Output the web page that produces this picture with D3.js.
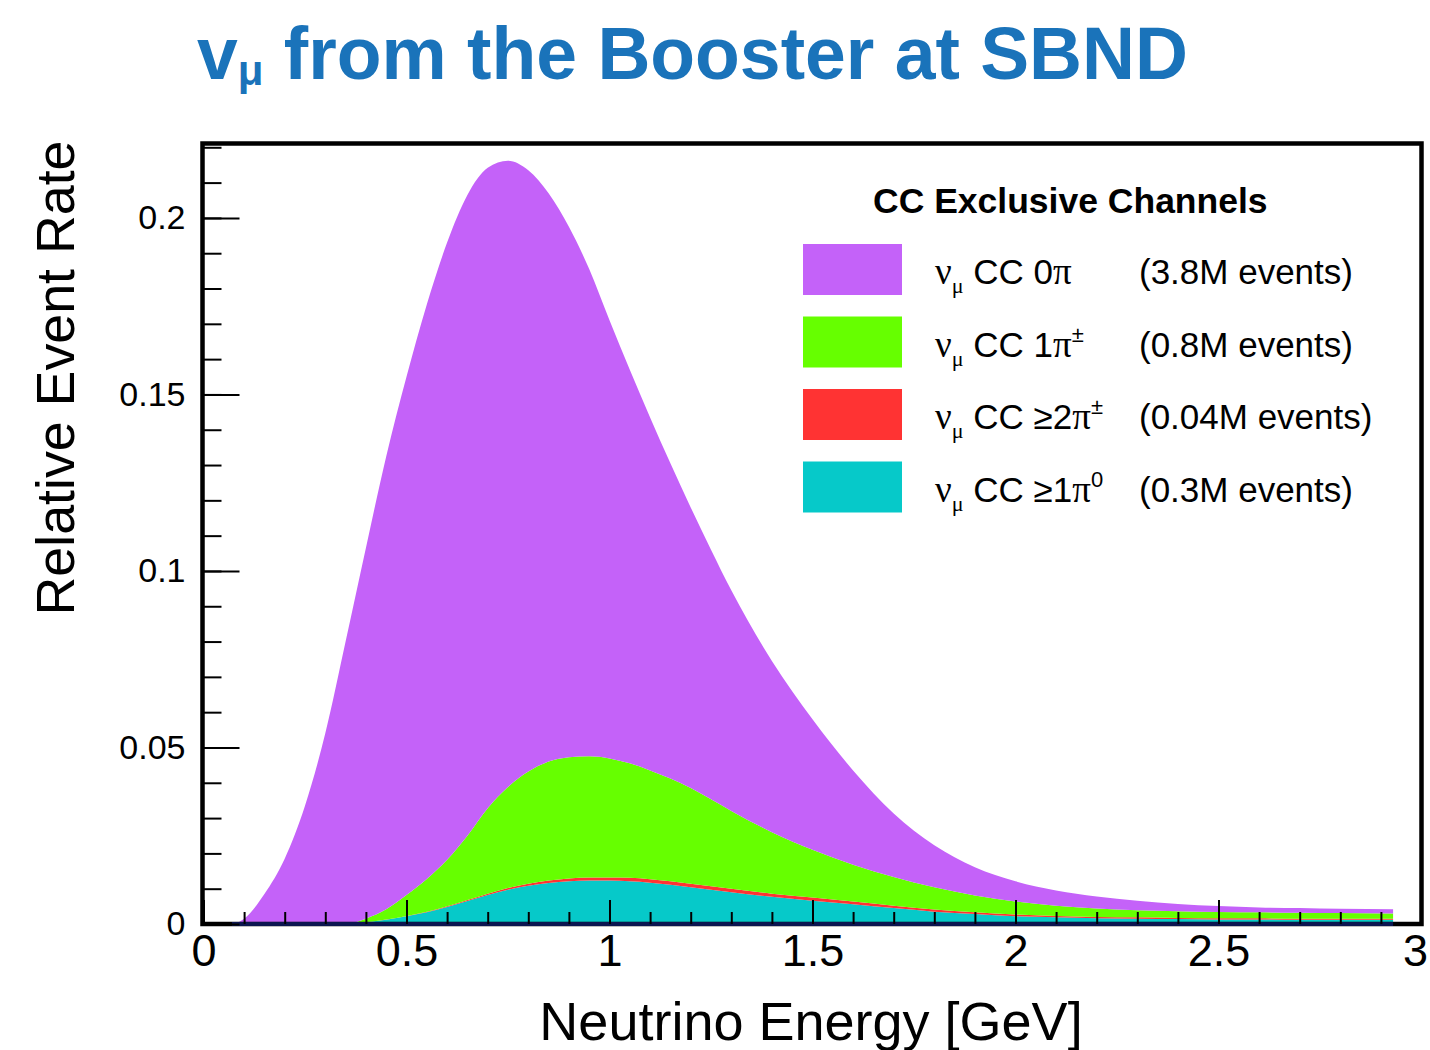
<!DOCTYPE html>
<html>
<head>
<meta charset="utf-8">
<script src="https://cdn.jsdelivr.net/npm/d3@7"></script>
<style>
  body { margin: 0; background: #fff; }
  svg { display: block; }
</style>
</head>
<body>
<svg id="chart" width="1430" height="1050"></svg>
<script>
// Neutrino energy grid [GeV]
const energy = [0, 0.07, 0.1, 0.15, 0.2, 0.25, 0.3, 0.35,
  0.4, 0.45, 0.5, 0.55, 0.6, 0.65, 0.7, 0.75, 0.8, 0.85, 0.9, 0.95, 1.0, 1.05, 1.1, 1.15, 1.2, 1.25, 1.3,
  1.4, 1.5, 1.6, 1.7, 1.8, 1.9, 2.0, 2.1, 2.2, 2.3, 2.4, 2.5, 2.6, 2.7, 2.8,
  2.93];

// Relative event rate per exclusive CC channel
const cc0pi = [0, 0, 0.0015, 0.0085, 0.0185, 0.0335, 0.054, 0.080,
  0.105, 0.1283, 0.1468, 0.1627, 0.1748, 0.1815, 0.1814, 0.1774, 0.1703, 0.161, 0.1503, 0.138, 0.1241, 0.1115, 0.1, 0.0893, 0.0795, 0.0707, 0.0625,
  0.0485, 0.037, 0.0267, 0.018, 0.0119, 0.008, 0.0057, 0.0043, 0.0034, 0.0027, 0.0021, 0.0017, 0.0014, 0.0013, 0.0012,
  0.0012];
const cc1piCharged = [0, 0, 0, 0, 0, 0, 0, 0,
  0.001, 0.0029, 0.0059, 0.0093, 0.0132, 0.0182, 0.0242, 0.0286, 0.0318, 0.0337, 0.0343, 0.0343, 0.0337, 0.0324, 0.0308, 0.0291, 0.0271, 0.0246, 0.022,
  0.0174, 0.0135, 0.0104, 0.0081, 0.0063, 0.0048, 0.0037, 0.0029, 0.0024, 0.002, 0.0019, 0.0018, 0.0017, 0.0017, 0.0016,
  0.0015];
const cc2piCharged = [0, 0, 0, 0, 0, 0, 0, 0,
  0.00002, 0.00005, 0.0001, 0.00015, 0.0002, 0.0003, 0.0004, 0.0005, 0.0006, 0.0007, 0.0008, 0.0009, 0.0009, 0.001, 0.001, 0.001, 0.001, 0.001, 0.001,
  0.0009, 0.0009, 0.0008, 0.0007, 0.0006, 0.0005, 0.0005, 0.0004, 0.0004, 0.0004, 0.0003, 0.0003, 0.0003, 0.0003, 0.0003,
  0.0003];
const cc1piNeutral = [0, 0, 0, 0, 0, 0, 0, 0,
  0.0005, 0.0012, 0.0022, 0.0033, 0.0048, 0.0065, 0.0082, 0.0097, 0.0108, 0.0116, 0.0121, 0.0123, 0.0123, 0.0121, 0.0117, 0.0111, 0.0104, 0.0097, 0.009,
  0.0077, 0.0066, 0.0056, 0.0045, 0.0035, 0.0028, 0.0022, 0.0019, 0.0016, 0.0015, 0.0014, 0.0013, 0.0013, 0.0012, 0.0012,
  0.0012];

// Channels: legend order (top to bottom)
const channelKeys = ["cc0pi", "cc1piCharged", "cc2piCharged", "cc1piNeutral"];
const channelMultiplicity = ["0", "1", "\u22652", "\u22651"];
const channelCharge = ["", "\u00b1", "\u00b1", "0"];
const channelEvents = ["(3.8M events)", "(0.8M events)", "(0.04M events)", "(0.3M events)"];
const channelColors = ["#c462f9", "#66ff00", "#ff3333", "#06c9c9"];

const xMajorTicks = [0, 0.5, 1, 1.5, 2, 2.5, 3];
const xTickLabels = ["0", "0.5", "1", "1.5", "2", "2.5", "3"];
const yMajorTicks = [0, 0.05, 0.1, 0.15, 0.2];
const yTickLabels = ["0", "0.05", "0.1", "0.15", "0.2"];

const svg = d3.select("#chart");
const sans = "'Liberation Sans', Arial, Helvetica, sans-serif";
const serif = "'Liberation Serif', 'Times New Roman', serif";

const x = d3.scaleLinear().domain([0, 3]).range([203.5, 1421.5]);
const y = d3.scaleLinear().domain([0, 0.2215]).range([924, 142]);

// Title
const title = svg.append("text")
  .attr("x", 197).attr("y", 79)
  .attr("font-family", sans).attr("font-weight", "bold")
  .attr("font-size", 73.3).attr("fill", "#1a73ba");
title.append("tspan").text("v");
title.append("tspan").attr("font-size", 42).attr("dy", 6).text("\u03bc");
title.append("tspan").attr("dy", -6).text(" from the Booster at SBND");

// Stacked areas (bottom layer first)
const rows = energy.map((e, i) => ({
  energy: e,
  cc0pi: cc0pi[i],
  cc1piCharged: cc1piCharged[i],
  cc2piCharged: cc2piCharged[i],
  cc1piNeutral: cc1piNeutral[i]
}));
const stackOrder = ["cc1piNeutral", "cc2piCharged", "cc1piCharged", "cc0pi"];
const layers = d3.stack().keys(stackOrder)(rows);
const area = d3.area()
  .x(d => x(d.data.energy))
  .y0(d => y(d[0]))
  .y1(d => y(d[1]))
  .curve(d3.curveMonotoneX);

svg.append("g").selectAll("path")
  .data(layers)
  .join("path")
  .attr("d", area)
  .attr("fill", d => channelColors[channelKeys.indexOf(d.key)]);

// Frame
svg.append("rect")
  .attr("x", 202.5).attr("y", 143.5)
  .attr("width", 1219).attr("height", 780.5)
  .attr("fill", "none").attr("stroke", "#000").attr("stroke-width", 4.5);

// Histogram baseline
svg.append("line")
  .attr("x1", x(energy[1])).attr("x2", x(energy[energy.length - 1]))
  .attr("y1", y(0)).attr("y2", y(0))
  .attr("stroke", "#0c1650").attr("stroke-width", 4);

// Y axis: major and minor ticks inside the frame
const yMinor = d3.range(0, 0.2215, 0.01).map(v => +v.toFixed(2));
svg.append("g")
  .attr("transform", "translate(202.5,0)")
  .call(d3.axisLeft(y).tickValues(yMinor).tickSize(-19).tickFormat(""))
  .call(g => g.select(".domain").remove())
  .call(g => g.selectAll("line").attr("stroke", "#000").attr("stroke-width", 2));
svg.append("g")
  .attr("transform", "translate(202.5,0)")
  .call(d3.axisLeft(y).tickValues(yMajorTicks).tickSize(-37).tickPadding(17)
    .tickFormat((d, i) => yTickLabels[i]))
  .call(g => g.select(".domain").remove())
  .call(g => g.selectAll("line").attr("stroke", "#000").attr("stroke-width", 2))
  .call(g => g.selectAll("text").attr("font-family", sans).attr("font-size", 34).attr("fill", "#000"));

// X axis: major and minor ticks pointing up from the bottom edge
const xMinor = d3.range(0, 3.0001, 0.1).map(v => +v.toFixed(1));
svg.append("g")
  .attr("transform", "translate(0,924)")
  .call(d3.axisBottom(x).tickValues(xMinor).tickSize(-12).tickFormat(""))
  .call(g => g.select(".domain").remove())
  .call(g => g.selectAll("line").attr("stroke", "#000").attr("stroke-width", 2));
svg.append("g")
  .attr("transform", "translate(0,924)")
  .call(d3.axisBottom(x).tickValues(xMajorTicks).tickSize(-24).tickPadding(10)
    .tickFormat((d, i) => xTickLabels[i]))
  .call(g => g.select(".domain").remove())
  .call(g => g.selectAll("line").attr("stroke", "#000").attr("stroke-width", 2))
  .call(g => g.selectAll("text").attr("font-family", sans).attr("font-size", 45).attr("fill", "#000"))
  // the last label sits at the page edge; keep it inside the page
  .call(g => g.selectAll("text").filter(d => d === 3).attr("text-anchor", "end").attr("dx", 6));

// Axis titles
svg.append("text")
  .attr("transform", "translate(74,378) rotate(-90)")
  .attr("text-anchor", "middle")
  .attr("font-family", sans).attr("font-size", 54)
  .attr("textLength", 475).attr("lengthAdjust", "spacingAndGlyphs")
  .text("Relative Event Rate");
svg.append("text")
  .attr("x", 811).attr("y", 1040)
  .attr("text-anchor", "middle")
  .attr("font-family", sans).attr("font-size", 54)
  .text("Neutrino Energy [GeV]");

// Legend
const legend = svg.append("g");
legend.append("text")
  .attr("x", 873).attr("y", 213)
  .attr("font-family", sans).attr("font-weight", "bold").attr("font-size", 35.5)
  .text("CC Exclusive Channels");

channelKeys.forEach((key, i) => {
  const top = 244 + i * 72.5;
  legend.append("rect")
    .attr("x", 803).attr("y", top).attr("width", 99).attr("height", 51)
    .attr("fill", channelColors[i]);
  const t = legend.append("text")
    .attr("x", 935).attr("y", top + 40)
    .attr("font-family", sans).attr("font-size", 35).attr("fill", "#000");
  t.append("tspan").attr("font-family", serif).attr("font-size", 37).text("\u03bd");
  t.append("tspan").attr("font-family", serif).attr("font-size", 22).attr("dy", 9).text("\u03bc");
  t.append("tspan").attr("dy", -9).text(" CC " + channelMultiplicity[i]);
  t.append("tspan").attr("font-family", serif).attr("font-size", 37).text("\u03c0");
  if (channelCharge[i]) {
    t.append("tspan").attr("font-size", 22).attr("dy", -15).text(channelCharge[i]);
  }
  legend.append("text")
    .attr("x", 1139).attr("y", top + 40)
    .attr("font-family", sans).attr("font-size", 35).attr("fill", "#000")
    .text(channelEvents[i]);
});
</script>
</body>
</html>
